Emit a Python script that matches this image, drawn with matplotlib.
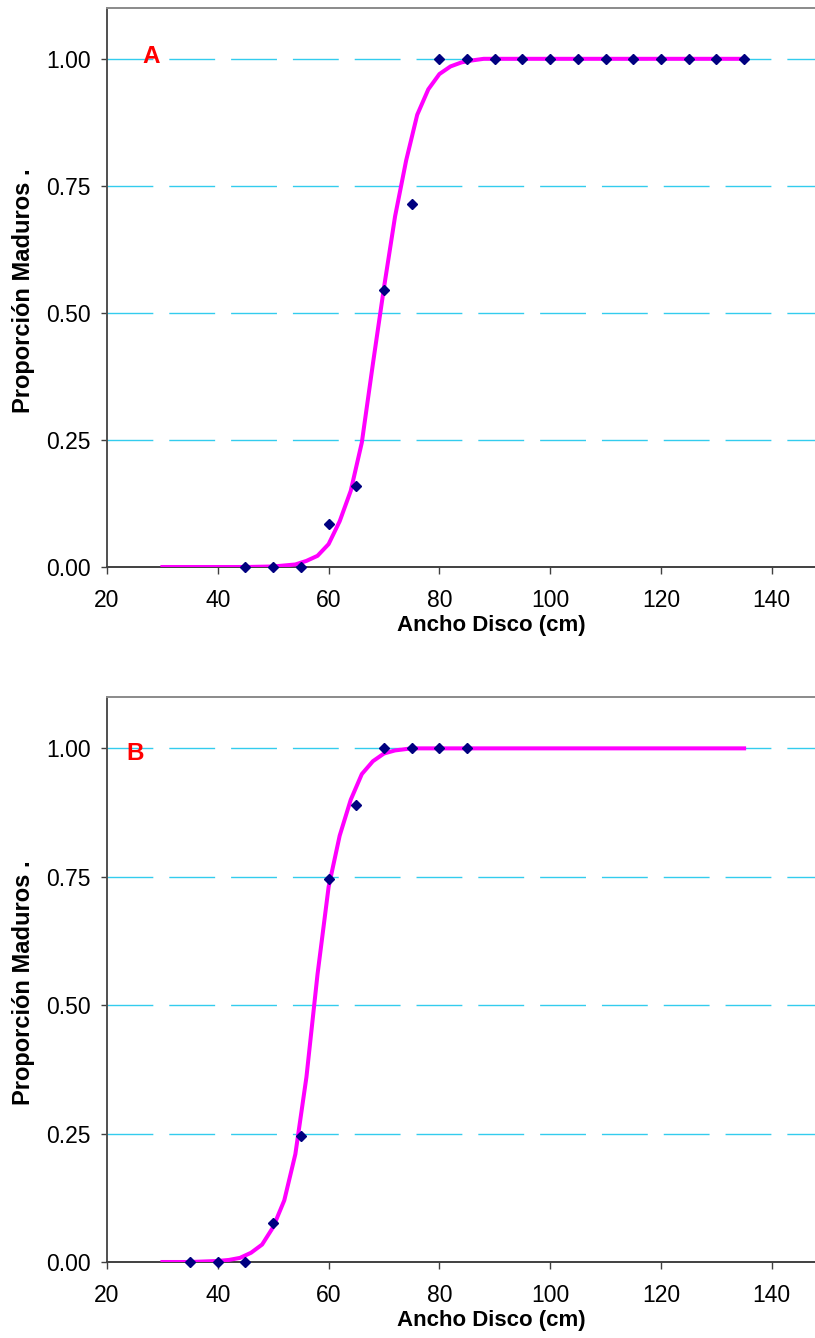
import matplotlib
matplotlib.use("Agg")
import matplotlib.pyplot as plt

plt.rcParams['font.family'] = ['Liberation Sans', 'DejaVu Sans']
plt.rcParams['lines.scale_dashes'] = False

# panel A - observed proportions
obs_x_a = [45, 50, 55, 60, 65, 70, 75, 80, 85, 90, 95, 100, 105, 110, 115, 120, 125, 130, 135]
obs_y_a = [0.0, 0.0, 0.0, 0.085, 0.16, 0.545, 0.715, 1.0, 1.0, 1.0, 1.0, 1.0, 1.0, 1.0, 1.0, 1.0, 1.0, 1.0, 1.0]

# panel A - fitted curve
fit_x_a = [30, 35, 40, 45, 50, 52, 54, 56, 58, 60, 62, 64, 66, 68, 70, 72, 74, 76, 78, 80, 82, 84, 86, 88, 90, 135]
fit_y_a = [0.0, 0.0, 0.0, 0.0, 0.001, 0.003, 0.005, 0.012, 0.022, 0.045, 0.09, 0.15, 0.245, 0.40, 0.55, 0.69, 0.80, 0.89, 0.94, 0.97, 0.985, 0.993, 0.997, 1.0, 1.0, 1.0]

# panel B - observed proportions
obs_x_b = [35, 40, 45, 50, 55, 60, 65, 70, 75, 80, 85]
obs_y_b = [0.0, 0.0, 0.0, 0.075, 0.245, 0.745, 0.89, 1.0, 1.0, 1.0, 1.0]

# panel B - fitted curve
fit_x_b = [30, 35, 40, 42, 44, 46, 48, 50, 52, 54, 56, 58, 60, 62, 64, 66, 68, 70, 72, 75, 135]
fit_y_b = [0.0, 0.0, 0.002, 0.004, 0.008, 0.018, 0.034, 0.068, 0.12, 0.21, 0.36, 0.56, 0.73, 0.83, 0.90, 0.95, 0.975, 0.99, 0.996, 1.0, 1.0]

yticks = [0.0, 0.25, 0.50, 0.75, 1.00]
ytick_labels = ["0.00", "0.25", "0.50", "0.75", "1.00"]
xticks = [20, 40, 60, 80, 100, 120, 140]

W, H = 815, 1338
fig = plt.figure(figsize=(W / 100, H / 100), dpi=100)

# letter, data, axes bottom/top in pixels, letter position
panels = [
    ("A", obs_x_a, obs_y_a, fit_x_a, fit_y_a, 567, 8, 28.0, 0.992),
    ("B", obs_x_b, obs_y_b, fit_x_b, fit_y_b, 1262, 697, 25.0, 0.978),
]

left_px = 107
for letter, ox, oy, fx, fy, bot_px, top_px, letter_x, letter_y in panels:
    ax = fig.add_axes([left_px / W, 1 - bot_px / H, (W - left_px) / W, (bot_px - top_px) / H])
    ax.set_xlim(20, 147.8)
    ax.set_ylim(0, 1.1)

    for y in yticks[1:]:
        ax.axhline(y, color='#33CCEE', lw=1.0, linestyle=(0, (33, 11.5)), zorder=1)

    ax.plot(fx, fy, color='#FF00FF', lw=2.9, zorder=3, solid_joinstyle='round')
    ax.plot(ox, oy, linestyle='none', marker='D', ms=5.3, color='#000080', zorder=4, clip_on=False)

    ax.text(letter_x, letter_y, letter, color='#FF0000', fontsize=17.5, fontweight='bold',
            ha='center', va='baseline', zorder=5)

    ax.set_xticks(xticks)
    ax.set_yticks(yticks)
    ax.set_yticklabels(ytick_labels)
    ax.tick_params(axis='both', labelsize=16.5, colors='#000000', direction='out')
    ax.tick_params(axis='x', length=5, width=1, color='#404040', pad=11)
    ax.tick_params(axis='y', length=4.5, width=1, color='#404040', pad=7)

    ax.spines['right'].set_visible(False)
    ax.spines['left'].set_color('#505050')
    ax.spines['left'].set_linewidth(1.4)
    ax.spines['bottom'].set_color('#404040')
    ax.spines['bottom'].set_linewidth(1.4)
    ax.spines['top'].set_color('#8A8A8A')
    ax.spines['top'].set_linewidth(1.4)

    ax.set_xlabel("Ancho Disco (cm)", fontsize=16, fontweight='bold')
    ax.xaxis.set_label_coords((491 - left_px) / (W - left_px), -48 / (bot_px - top_px))
    ax.xaxis.label.set_va('top')
    ax.set_ylabel("Proporción Maduros .", fontsize=17, fontweight='bold')
    ax.yaxis.set_label_coords((24 - left_px) / (W - left_px), 0.494)
    ax.yaxis.label.set_va('center')

fig.savefig("out.png", dpi=100)
